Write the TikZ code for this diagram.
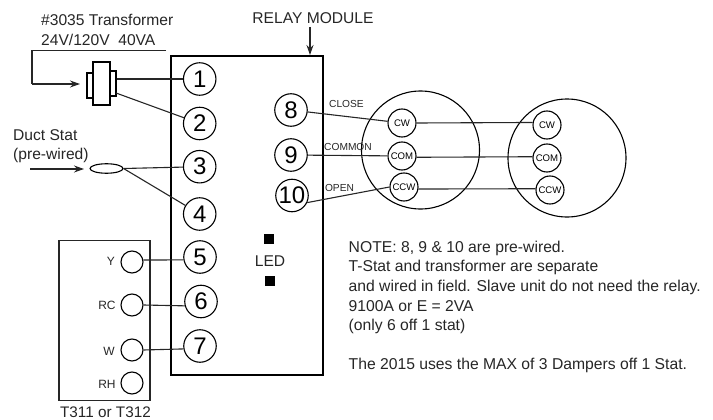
\documentclass[tikz,border=0pt]{standalone}
\usepackage{fontspec}
\setmainfont{Liberation Sans}
\usetikzlibrary{arrows.meta,shapes.geometric}
\tikzset{
  wire/.style={line width=1.1pt,draw=black!85},
  term/.style={circle,draw=black,line width=1.1pt,minimum size=32.5pt,inner sep=0pt,font=\fontsize{24}{24}\selectfont},
  port/.style={circle,draw=black,line width=1.1pt,minimum size=28pt,inner sep=0pt,font=\fontsize{9.6}{9.6}\selectfont},
  tport/.style={circle,draw=black,line width=1.1pt,minimum size=22pt,inner sep=0pt},
  lab/.style={inner sep=0pt,font=\fontsize{12}{12}\selectfont,text=black!85},
  big/.style={inner sep=0pt,font=\fontsize{15.6}{15.6}\selectfont,text=black!85},
  small/.style={inner sep=0pt,font=\fontsize{10.2}{10.2}\selectfont,text=black!85},
  note/.style={inner sep=0pt,anchor=west,font=\fontsize{15.7}{15.7}\selectfont,text=black!85},
  tip/.style={-{Stealth[length=10pt,width=7pt]}}
}
\begin{document}
\begin{tikzpicture}[x=1pt,y=-1pt]
\useasboundingbox (0,0) rectangle (713,420);
\node[draw=black,line width=1.1pt,minimum width=152pt,minimum height=319pt,inner sep=0pt] (relay) at (247,215.5) {};
\node[draw=black!85,line width=1.4pt,minimum width=91pt,minimum height=160pt,inner sep=0pt] (stat) at (104.5,320.3) {};
% bobbin
\node[draw=black,line width=1.1pt,minimum width=6pt,minimum height=25pt,inner sep=0pt] (tl) at (90,85.5) {};
\node[draw=black,line width=1.1pt,minimum width=6pt,minimum height=25pt,inner sep=0pt] (tr) at (113,83.5) {};
\node[draw=black,fill=white,line width=1.1pt,minimum width=17pt,minimum height=43pt,inner sep=0pt] (core) at (101.5,83.5) {};
% terminals
\node[term] (t1) at (199.7,79) {1};
\node[term] (t2) at (199.7,123.5) {2};
\node[term] (t3) at (199.7,166.7) {3};
\node[term] (t4) at (199.7,214) {4};
\node[term] (t5) at (200,257) {5};
\node[term] (t6) at (201,301.5) {6};
\node[term] (t7) at (200,346) {7};
\node[term] (t8) at (291,110) {8};
\node[term] (t9) at (291,155) {9};
\node[term] (t10) at (292,195.5) {10};
% motors
\node[circle,draw=black,line width=1.1pt,minimum size=118pt,inner sep=0pt] (m1) at (420.5,150) {};
\node[circle,draw=black,line width=1.1pt,minimum size=118pt,inner sep=0pt] (m2) at (567,158) {};
\node[port] (cw1) at (402,123) {CW};
\node[port] (com1) at (402,156) {COM};
\node[port] (ccw1) at (404,187) {CCW};
\node[port] (cw2) at (547,125) {CW};
\node[port] (com2) at (547,158) {COM};
\node[port] (ccw2) at (550,190) {CCW};
% stat terminals
\node[tport] (y) at (132,262) {};
\node[tport] (rc) at (132,305) {};
\node[tport] (w) at (132,350) {};
\node[tport] (rh) at (132,383) {};
\node[lab] (ly) at (111,261) {Y};
\node[lab] (lrc) at (107,305) {RC};
\node[lab] (lw) at (109,351) {W};
\node[lab] (lrh) at (107,384) {RH};
\node[big,font=\fontsize{15.3}{15.3}\selectfont] (tname) at (105.5,412) {T311 or T312};
% duct stat
\node[ellipse,draw=black,line width=1.1pt,minimum width=33pt,minimum height=9.5pt,inner sep=0pt] (duct) at (106.5,168.5) {};
% LED
\node[fill=black,minimum size=10pt,inner sep=0pt] (la) at (269,239) {};
\node[fill=black,minimum size=10pt,inner sep=0pt] (lb) at (270.3,281) {};
\node[big] (led) at (270,261) {LED};
% text
\node[big,anchor=west] (tr1) at (41,20) {\#3035 Transformer};
\node[big,anchor=west] (tr2) at (41,40) {24V/120V\ \ 40VA};
\node[big,anchor=west] (ds1) at (13,135) {Duct Stat};
\node[big,anchor=west] (ds2) at (13,155) {(pre-wired)};
\node[big] (rm) at (313,18) {RELAY MODULE};
\node[small] (close) at (346.5,104) {CLOSE};
\node[small] (common) at (348,147) {COMMON};
\node[small] (open) at (339.5,188) {OPEN};
\node[note] (n1) at (348.5,248) {NOTE: 8, 9 \& 10 are pre-wired.};
\node[note] (n2) at (348.5,267.5) {T-Stat and transformer are separate};
\node[note] (n3) at (348.5,287) {and wired in field. Slave unit do not need the relay.};
\node[note] (n4) at (348.5,306.5) {9100A or E = 2VA};
\node[note] (n5) at (348.5,326) {(only 6 off 1 stat)};
\node[note] (n6) at (348.5,365) {The 2015 uses the MAX of 3 Dampers off 1 Stat.};
% free ends
\coordinate (c1) at (166,50.7);
\coordinate (c2) at (32,50.7);
\coordinate (c3) at (32,84);
\coordinate (c4) at (80,84);
\coordinate (d1) at (30,169);
\coordinate (d2) at (84,169);
\coordinate (r1) at (310,27);
\coordinate (r2) at (310,55);
\coordinate (s2) at (116,93);
% wires
\draw[wire] (c1) -- (c2) -- (c3);
\draw[wire,tip] (c3) -- (c4);
\draw[wire,tip] (d1) -- (d2);
\draw[wire,tip] (r1) -- (r2);
\draw[wire] (tr.east |- t1) -- (t1);
\draw[wire] (s2) -- (t2);
\draw[wire] (duct.east) -- (t3);
\draw[wire] (duct.east) -- (t4);
\draw[wire] (y.10) -- (t5.190);
\draw[wire] (rc.east) -- (t6.195);
\draw[wire] (w.east) -- (t7.190);
\draw[wire] (t8) -- (cw1);
\draw[wire] (t9) -- (com1);
\draw[wire] (t10.-25) -- (ccw1.west);
\draw[wire] (cw1.east) -- (cw2.170);
\draw[wire] (com1.-5) -- (com2.175);
\draw[wire] (ccw1.-8) -- (ccw2.175);
\end{tikzpicture}
\end{document}
